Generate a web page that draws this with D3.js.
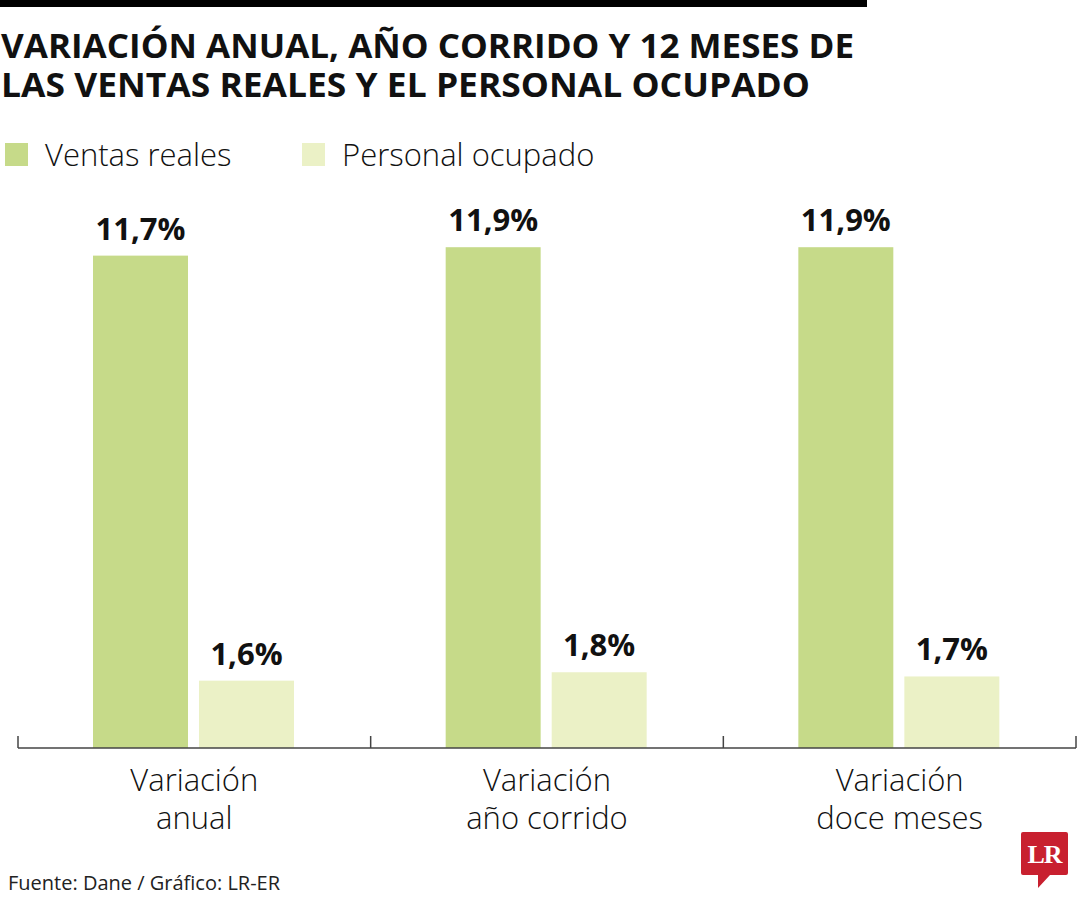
<!DOCTYPE html>
<html>
<head>
<meta charset="utf-8">
<script src="https://cdn.jsdelivr.net/npm/d3@7"></script>
<style>
  body { margin: 0; background: #fff; }
  svg text { font-family: "Open Sans", "Noto Sans", sans-serif; fill: #111; }
</style>
</head>
<body>
<svg id="chart" width="1080" height="900"></svg>
<script>
// data
const categories = ["Variación anual", "Variación año corrido", "Variación doce meses"];
const categoryLines = [["Variación", "anual"], ["Variación", "año corrido"], ["Variación", "doce meses"]];
const series = ["Ventas reales", "Personal ocupado"];
const ventas = [11.7, 11.9, 11.9];
const personal = [1.6, 1.8, 1.7];
const titleLines = ["VARIACIÓN ANUAL, AÑO CORRIDO Y 12 MESES DE", "LAS VENTAS REALES Y EL PERSONAL OCUPADO"];
const source = "Fuente: Dane / Gráfico: LR-ER";

const colors = { "Ventas reales": "#c6da89", "Personal ocupado": "#ebf1c6" };
const fmt = v => d3.format(".1f")(v).replace(".", ",") + "%";

const svg = d3.select("#chart");

// top rule
svg.append("rect").attr("x", 0).attr("y", 0).attr("width", 867).attr("height", 7).attr("fill", "#000");

// title, stretched to the reference widths
const titleWidths = [854, 810];
svg.selectAll("text.title").data(titleLines).join("text")
  .attr("class", "title")
  .attr("x", 1)
  .attr("y", (d, i) => 58 + i * 39)
  .attr("font-size", 34)
  .attr("font-weight", 700)
  .attr("textLength", (d, i) => titleWidths[i] - 1)
  .attr("lengthAdjust", "spacingAndGlyphs")
  .text(d => d);

// legend
const legendX = [5, 302];
const legend = svg.selectAll("g.legend").data(series).join("g")
  .attr("class", "legend")
  .attr("transform", (d, i) => `translate(${legendX[i]},143)`);
legend.append("rect").attr("width", 23).attr("height", 23).attr("fill", d => colors[d]);
legend.append("text")
  .attr("x", 40).attr("y", 23)
  .attr("font-size", 31).attr("font-weight", 300)
  .text(d => d);

// scales
const x0 = d3.scaleBand().domain(categories).range([18, 1076]).padding(0);
const x1 = d3.scaleBand().domain(series).range([75, 276]).paddingInner(0.104);
const y = d3.scaleLinear().domain([0, 12]).range([748, 243]);

const rows = categories.map((c, i) => ({
  cat: c,
  lines: categoryLines[i],
  values: [{ key: series[0], v: ventas[i] }, { key: series[1], v: personal[i] }]
}));

const groups = svg.selectAll("g.group").data(rows).join("g")
  .attr("class", "group")
  .attr("transform", d => `translate(${x0(d.cat)},0)`);

groups.selectAll("rect").data(d => d.values).join("rect")
  .attr("x", d => x1(d.key))
  .attr("width", x1.bandwidth())
  .attr("y", d => y(d.v))
  .attr("height", d => y(0) - y(d.v))
  .attr("fill", d => colors[d.key]);

groups.selectAll("text.val").data(d => d.values).join("text")
  .attr("class", "val")
  .attr("x", d => x1(d.key) + x1.bandwidth() / 2)
  .attr("y", d => y(d.v) - 16)
  .attr("text-anchor", "middle")
  .attr("font-size", 31)
  .attr("font-weight", 700)
  .text(d => fmt(d.v));

// axis line with boundary ticks
const bounds = categories.map(c => x0(c)).concat([x0.range()[1]]);
svg.append("line")
  .attr("x1", bounds[0]).attr("x2", bounds[bounds.length - 1])
  .attr("y1", y(0)).attr("y2", y(0))
  .attr("stroke", "#444").attr("stroke-width", 1.5);
svg.selectAll("line.tick").data(bounds).join("line")
  .attr("class", "tick")
  .attr("x1", d => d).attr("x2", d => d)
  .attr("y1", y(0)).attr("y2", y(0) - 12)
  .attr("stroke", "#444").attr("stroke-width", 1.5);

// category labels
groups.each(function (d) {
  const t = d3.select(this).append("text")
    .attr("text-anchor", "middle")
    .attr("font-size", 31)
    .attr("font-weight", 300);
  t.selectAll("tspan").data(d.lines).join("tspan")
    .attr("x", x0.bandwidth() / 2)
    .attr("y", (l, i) => 791 + i * 38)
    .text(l => l);
});

// source
svg.append("text")
  .attr("x", 8).attr("y", 890)
  .attr("font-size", 20).attr("font-weight", 400)
  .style("fill", "#222")
  .text(source);

// LR logo
const logo = svg.append("g").attr("transform", "translate(1021,832)");
logo.append("path")
  .attr("d", "M2,0 H45 Q47,0 47,2 V41 Q47,43 45,43 H29 L17,56 L17,43 H2 Q0,43 0,41 V2 Q0,0 2,0 Z")
  .attr("fill", "#c8202f");
logo.append("text")
  .attr("x", 23.5).attr("y", 31)
  .attr("text-anchor", "middle")
  .style("font-family", "'Liberation Serif', 'DejaVu Serif', serif")
  .attr("font-size", 26).attr("font-weight", 700)
  .style("fill", "#fff")
  .attr("letter-spacing", -1)
  .text("LR");
</script>
</body>
</html>
